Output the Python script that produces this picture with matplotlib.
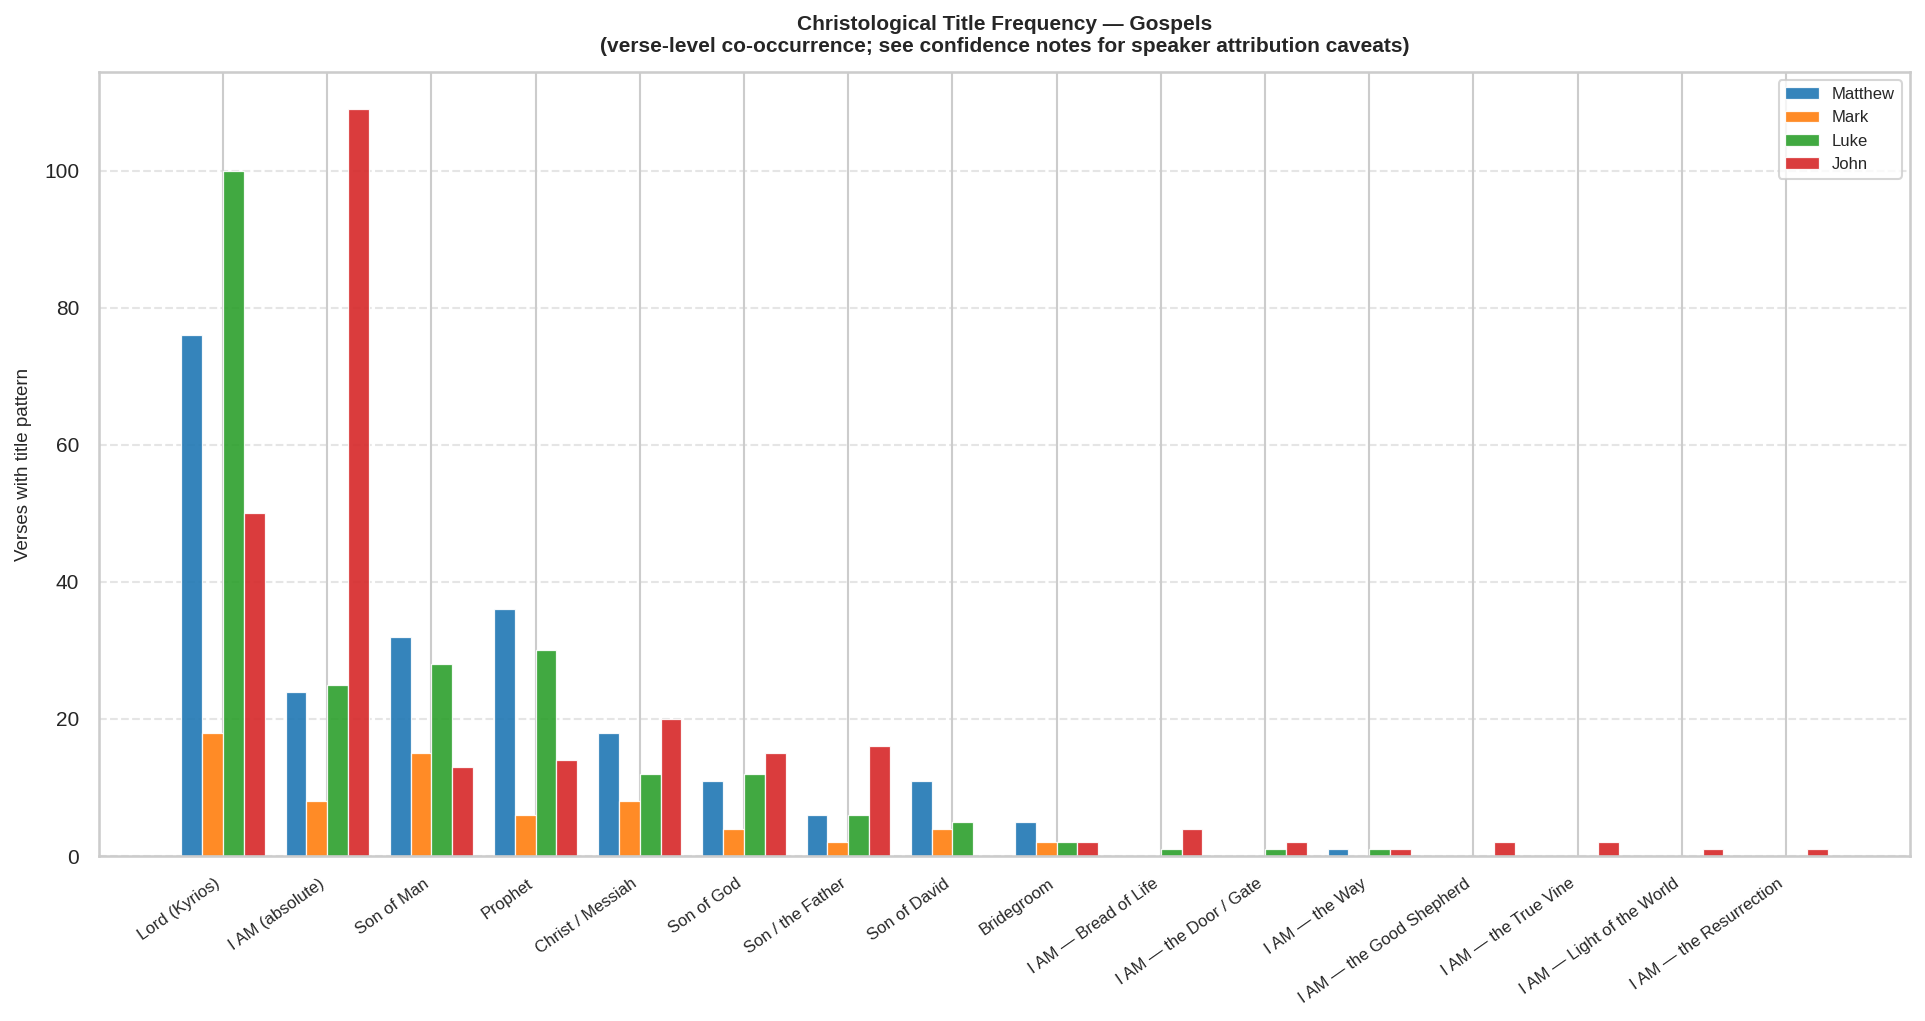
import numpy as np
import matplotlib
matplotlib.use("Agg")
import matplotlib.pyplot as plt
import seaborn as sns

categories = ["Lord (Kyrios)", "I AM (absolute)", "Son of Man", "Prophet",
              "Christ / Messiah", "Son of God", "Son / the Father", "Son of David",
              "Bridegroom", "I AM — Bread of Life", "I AM — the Door / Gate",
              "I AM — the Way", "I AM — the Good Shepherd", "I AM — the True Vine",
              "I AM — Light of the World", "I AM — the Resurrection"]
matthew = [76, 24, 32, 36, 18, 11, 6, 11, 5, 0, 0, 1, 0, 0, 0, 0]
mark    = [18, 8, 15, 6, 8, 4, 2, 4, 2, 0, 0, 0, 0, 0, 0, 0]
luke    = [100, 25, 28, 30, 12, 12, 6, 5, 2, 1, 1, 1, 0, 0, 0, 0]
john    = [50, 109, 13, 14, 20, 15, 16, 0, 2, 4, 2, 1, 2, 2, 1, 1]
series_names = ["Matthew", "Mark", "Luke", "John"]
series_colors = ["#1f77b4", "#ff7f0e", "#2ca02c", "#d62728"]

sns.set_theme(style="whitegrid")
plt.rcParams['font.family'] = ['Liberation Sans', 'DejaVu Sans']

fig = plt.figure(figsize=(1925 / 150, 1021 / 150), dpi=150)
ax = fig.add_axes([99 / 1925, 1 - 856 / 1021, 1811 / 1925, 784 / 1021])

x = np.arange(len(categories))
w = 0.2
for i, (name, vals, col) in enumerate(zip(series_names, [matthew, mark, luke, john], series_colors)):
    ax.bar(x + (i - 1.5) * w, vals, w, label=name, color=col, alpha=0.9,
           edgecolor="white", linewidth=0.6)

ax.set_xticks(x)
ax.set_xticklabels(categories, rotation=35, ha="right", fontsize=8)
ax.set_yticks([0, 20, 40, 60, 80, 100])
ax.tick_params(axis="y", labelsize=10)
ax.set_ylabel("Verses with title pattern", fontsize=9, labelpad=6)
ax.set_title("Christological Title Frequency — Gospels\n"
             "(verse-level co-occurrence; see confidence notes for speaker attribution caveats)",
             fontsize=10, fontweight="bold", pad=9.5)
ax.yaxis.grid(True, linestyle="--", alpha=0.5)
ax.xaxis.grid(True)
ax.legend(loc="upper right", fontsize=8)

fig.savefig("out.png", dpi=150)
